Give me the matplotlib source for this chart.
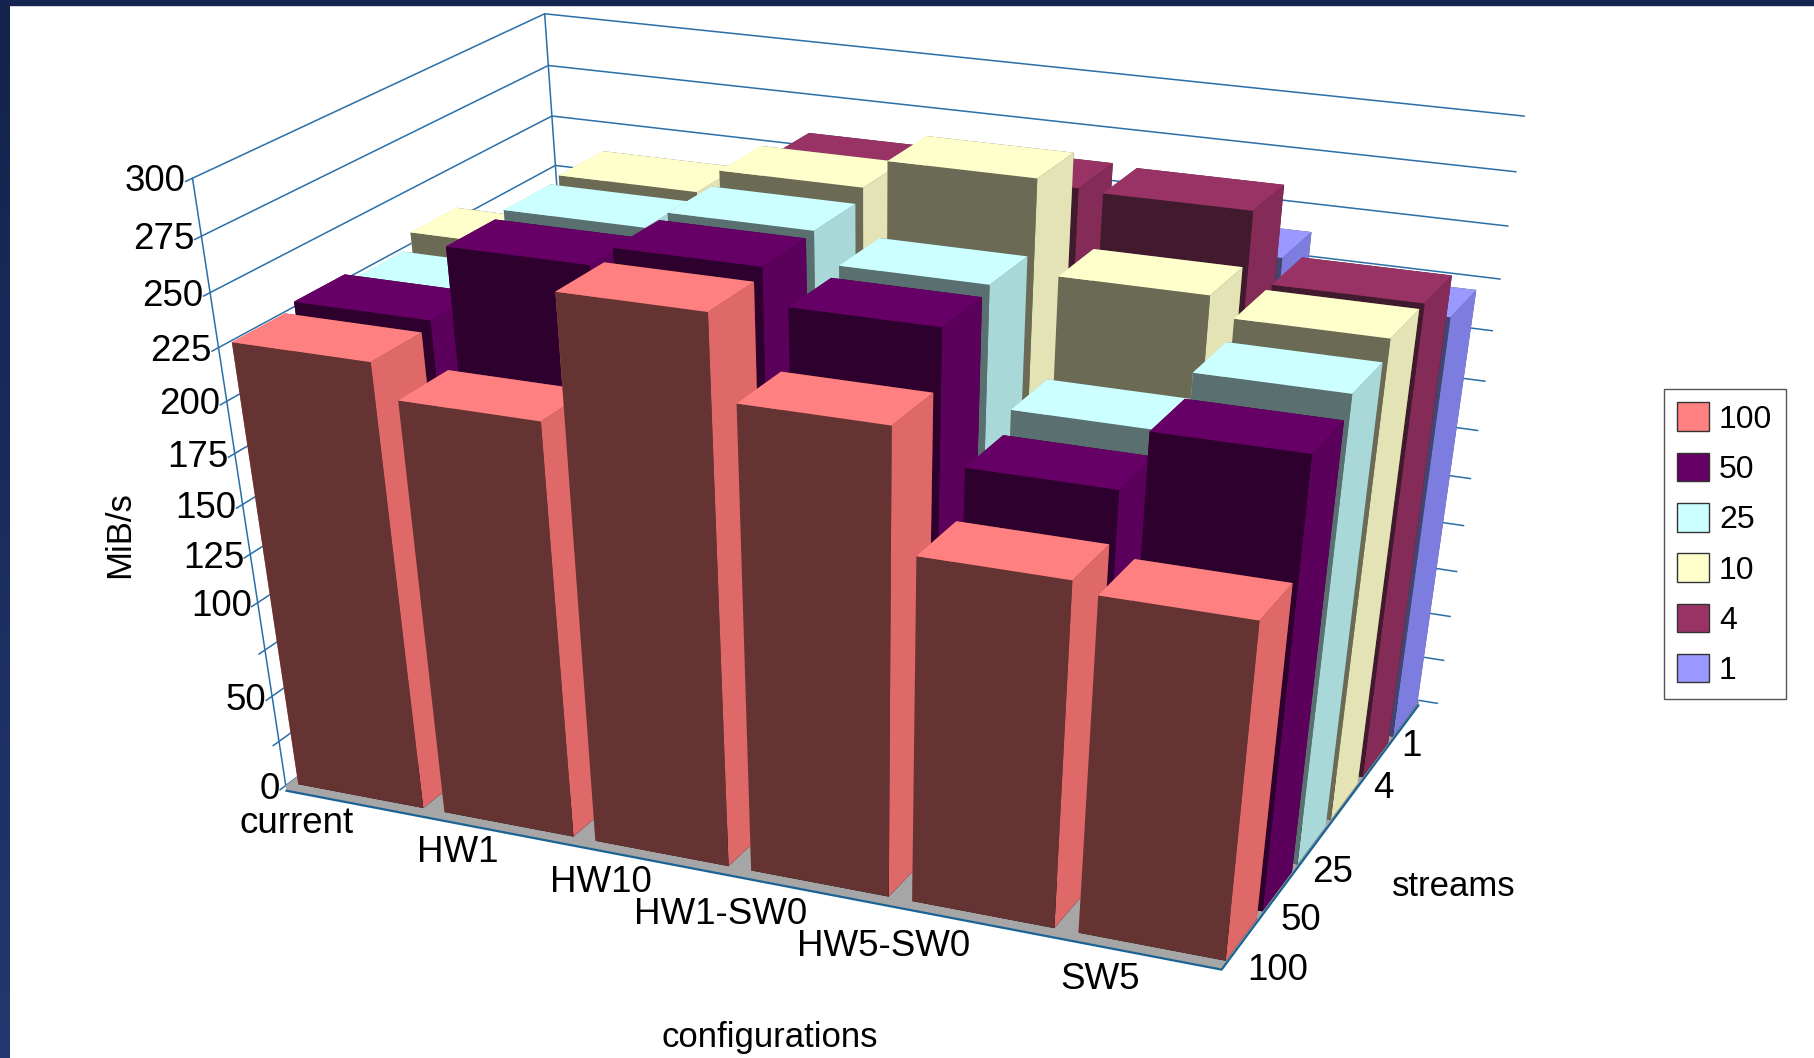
import numpy as np
import matplotlib
matplotlib.use('Agg')
import matplotlib.pyplot as plt
from matplotlib.colors import LinearSegmentedColormap
from matplotlib.patches import Patch, Rectangle
from mpl_toolkits.mplot3d import proj3d

plt.rcParams['font.family'] = ['Liberation Sans', 'DejaVu Sans']

configs = ['current', 'HW1', 'HW10', 'HW1-SW0', 'HW5-SW0', 'SW5']
streams = ['100', '50', '25', '10', '4', '1']
ticks = [0, 25, 50, 75, 100, 125, 150, 175, 200, 225, 250, 275, 300]
shown = [0, 50, 100, 125, 150, 175, 200, 225, 250, 275, 300]

s100 = [227, 211, 270, 232, 175, 170]
s50 = [230, 265, 274, 258, 197, 225]
s25 = [226, 267, 275, 261, 206, 234]
s10 = [233, 269, 280, 293, 251, 242]
s4 = [190, 240, 273, 275, 274, 242]
s1 = [190, 220, 240, 240, 238, 220]
series = [s100, s50, s25, s10, s4, s1]

# top, front, right side for every series
tops = ['#ff8080', '#660066', '#ccffff', '#ffffcc', '#993366', '#9999ff']
fronts = ['#663333', '#2d002d', '#5a7070', '#6b6b55', '#421a2e', '#444470']
sides = ['#df6868', '#5b005b', '#a8d8d8', '#e3e3b5', '#842b57', '#7d7de0']

W, H = 1814, 1058
fig = plt.figure(figsize=(W / 100, H / 100), dpi=100, facecolor='white')

# dark slide frame on the left and top
band = LinearSegmentedColormap.from_list('band', ['#13234c', '#233770'])
axb = fig.add_axes([0, 0, 10 / W, 1])
axb.imshow(np.linspace(0, 1, 64).reshape(-1, 1), cmap=band, aspect='auto')
axb.axis('off')
fig.add_artist(Rectangle((0, 1 - 5 / H), 1, 5 / H, transform=fig.transFigure, color='#14244e'))

ax = fig.add_axes([0.036, 0.052, 0.86, 0.99], projection='3d', computed_zorder=False)
ax.apply_aspect = lambda position=None: None
ax.patch.set_alpha(0)
ax.set_xticks([])
ax.set_yticks([])
ax.set_zticks([])
ax.set_axis_off()
ax.set_proj_type('persp', focal_length=0.43)
ax.view_init(elev=30.7, azim=-66.8)
ax.set_box_aspect((1, 0.665, 1))
ax.set_xlim(0, 6, view_margin=0)
ax.set_ylim(0, 6, view_margin=0)
ax.set_zlim(0, 300, view_margin=0)

grid = '#2a6fa8'
for t in ticks:
    ax.plot([0, 0, 6, 6.12], [-0.1, 6, 6, 6], [t, t, t, t], color=grid, lw=1.1, zorder=1)
ax.plot([0, 0], [0, 0], [0, 300], color=grid, lw=1.1, zorder=1)
ax.plot([0, 0], [6, 6], [0, 300], color=grid, lw=1.1, zorder=1)

ax.bar3d(0, 0, -3, 6, 6, 3, color='#a6a6a6', shade=False, zorder=1.5)
ax.plot([0, 6, 6], [0, 0, 6], [-3, -3, -3], color='#1b6394', lw=1.6, zorder=1.6)

# back rows first, left to right, so nearer bars cover farther ones
order = 2
for row in range(5, -1, -1):
    for col in range(6):
        faces = ['#000000', tops[row], fronts[row], fronts[row], sides[row], sides[row]]
        ax.bar3d(col * 1.015 + 0.06, row + 0.07, 0, 0.87, 0.84, series[row][col],
                 color=faces, shade=False, zorder=order, linewidth=0.3)
        order += 1

# z tick labels as plain 2D text at the projected tick ends
M = ax.get_proj()
for t in shown:
    px, py, _ = proj3d.proj_transform(0, -0.1, t, M)
    ax.annotate(str(t), (px, py), xycoords='data', xytext=(0, 0), textcoords='offset points',
                ha='right', va='center', fontsize=26.5, annotation_clip=False)


def label(px, py, s, size=26.5, **kw):
    fig.text(px / 1568, 1 - py / 915, s, ha='center', va='center', fontsize=size, **kw)


xlab_pos = [(256, 712), (396, 737), (519, 763), (623, 791), (764, 819), (951, 847)]
for s, p in zip(configs, xlab_pos):
    label(p[0], p[1], s)
ylab_pos = [(1104, 839), (1124, 796), (1152, 755), (1196, 682), (1220, 646)]
for s, p in zip(['100', '50', '25', '4', '1'], ylab_pos):
    label(p[0], p[1], s)
label(665, 897, 'configurations', size=25)
label(1257, 767, 'streams', size=25)
label(103, 462, 'MiB/s', size=25, rotation=90)

handles = [Patch(facecolor=c, edgecolor='#333333', linewidth=1) for c in tops]
leg = fig.legend(handles, streams, loc='upper left', bbox_to_anchor=(1664 / W, 1 - 389 / H),
                 borderaxespad=0, fontsize=23, frameon=True, fancybox=False, edgecolor='#555555',
                 handlelength=1.0, handleheight=1.0, labelspacing=0.565, handletextpad=0.3,
                 borderpad=0.42, framealpha=1)

fig.savefig('out.png', dpi=100)
